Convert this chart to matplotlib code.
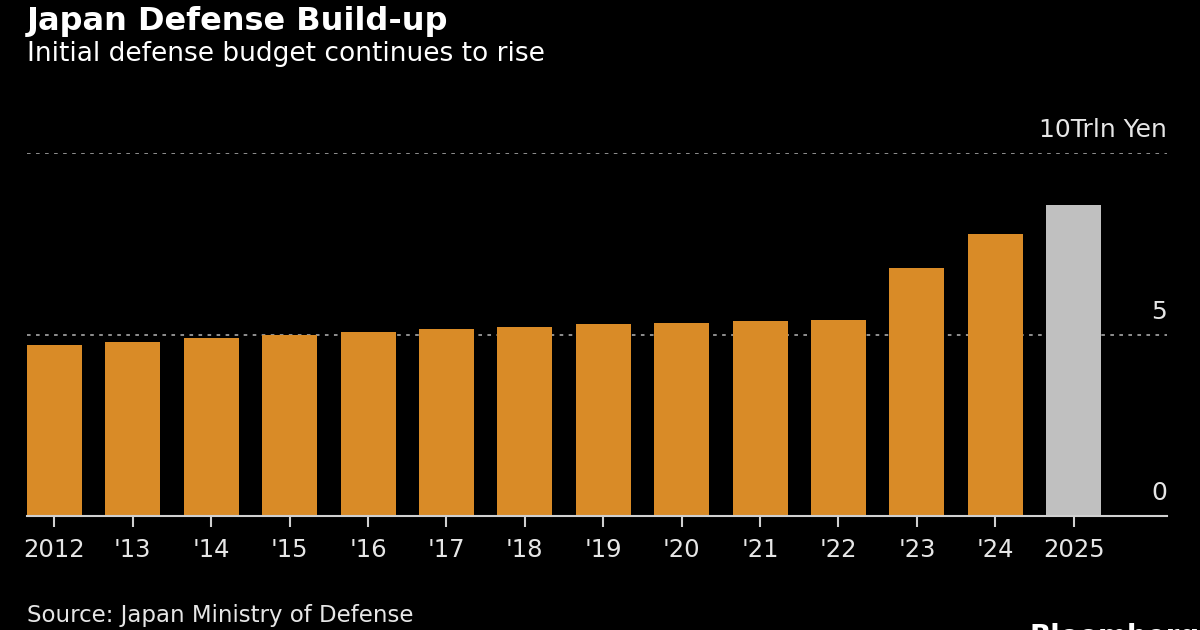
import matplotlib.pyplot as plt
import matplotlib.transforms as mtransforms

# Initial defense budget, trillion yen
years = ["2012", "'13", "'14", "'15", "'16", "'17", "'18", "'19", "'20",
         "'21", "'22", "'23", "'24", "2025"]
budget = [4.72, 4.78, 4.89, 4.99, 5.07, 5.16, 5.22, 5.30, 5.33, 5.36,
          5.41, 6.84, 7.76, 8.56]
y_ticks = [0, 5, 10]
y_tick_labels = ["0", "5", "10Trln Yen"]

orange = "#D98B27"
grey = "#C0C0C0"
colors = [orange] * (len(years) - 1) + [grey]

plt.rcParams["font.family"] = ["DejaVu Sans"]

fig = plt.figure(figsize=(12, 6.3), dpi=100, facecolor="black")
ax = fig.add_axes([27 / 1200, 1 - 516 / 630, (1167 - 27) / 1200, (516 - 153) / 630])
ax.set_facecolor("black")

x = list(range(len(years)))
ax.bar(x, budget, width=0.70, color=colors, zorder=2)

ax.set_xlim(-0.35, 14.19)
ax.set_ylim(0, 10)

# dotted gridlines at 5 and 10
for v in y_ticks[1:]:
    ax.axhline(v, color="#9a9a9a", linestyle=(0, (2, 3)), linewidth=1.3, zorder=1)

# right-side labels sitting above the lines
trans = mtransforms.blended_transform_factory(ax.transAxes, ax.transData)
for v, lab in zip(y_ticks, y_tick_labels):
    ax.text(1.0, v + 0.3, lab, transform=trans, ha="right", va="bottom",
            color="#e6e6e6", fontsize=18)

for s in ["top", "right", "left"]:
    ax.spines[s].set_visible(False)
ax.spines["bottom"].set_color("#d0d0d0")
ax.spines["bottom"].set_linewidth(1.5)
ax.set_yticks([])
ax.set_xticks(x)
ax.set_xticklabels(years, color="#e6e6e6", fontsize=17.5)
ax.tick_params(axis="x", colors="#d0d0d0", length=8, width=1.5, pad=8,
               labelcolor="#e6e6e6")

fig.text(27 / 1200, 1 - 6 / 630, "Japan Defense Build-up", color="white",
         fontsize=23, fontweight="bold", ha="left", va="top")
fig.text(27 / 1200, 1 - 41 / 630, "Initial defense budget continues to rise",
         color="white", fontsize=19, ha="left", va="top")
fig.text(27 / 1200, 1 - 604 / 630, "Source: Japan Ministry of Defense",
         color="#e6e6e6", fontsize=16.5, ha="left", va="top")
fig.text(1030 / 1200, 1 - 623 / 630, "Bloomberg", color="white",
         fontsize=20, fontweight="bold", ha="left", va="top")

fig.savefig("out.png", dpi=100, facecolor="black")
